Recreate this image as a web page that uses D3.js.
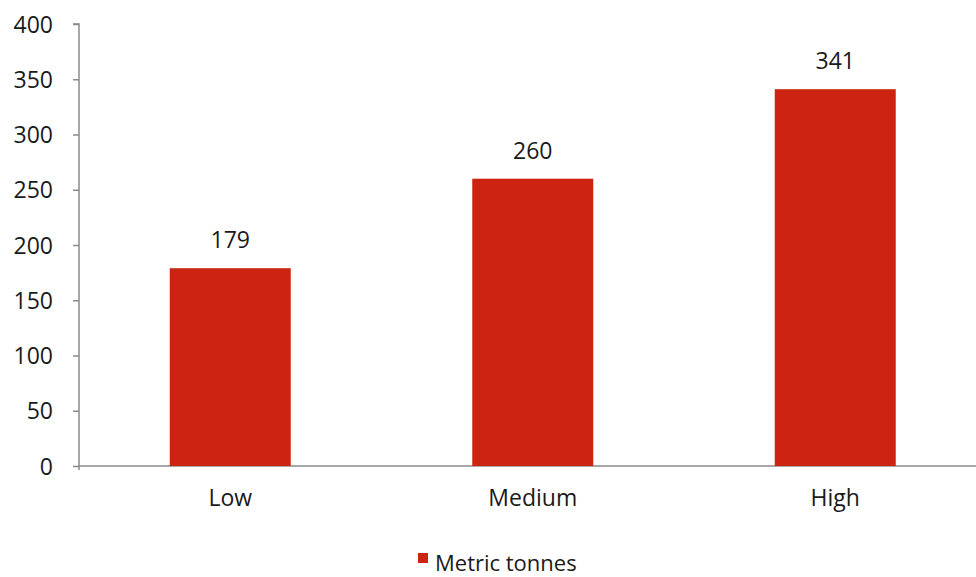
<!DOCTYPE html>
<html><head><meta charset="utf-8">
<script src="https://cdn.jsdelivr.net/npm/d3@7"></script>
<style>body{margin:0;background:#fff}text{font-family:"Open Sans",sans-serif;fill:#1a1a1a}</style>
</head><body>
<svg id="c" width="976" height="577"></svg>
<script>
const categories = ["Low", "Medium", "High"];
const values = [179, 260, 341];
const yTicks = [0, 50, 100, 150, 200, 250, 300, 350, 400];
const seriesName = "Metric tonnes";

const svg = d3.select("#c");
const axisColor = "#8a8a8a";
const barColor = "#cd2311";
const x0 = 79, yTop = 24, yBottom = 466;

const x = d3.scaleBand().domain(categories).range([x0, 986.5]).paddingInner(0.6).paddingOuter(0.3);
const y = d3.scaleLinear().domain([0, 400]).range([yBottom, yTop]);

// y axis
const ya = svg.append("g").attr("transform", `translate(${x0},0)`)
  .call(d3.axisLeft(y).tickValues(yTicks).tickSize(6).tickPadding(20));
ya.select(".domain").attr("stroke", axisColor).attr("stroke-width", 1.5).attr("d", `M-6,${yTop}H0V${yBottom + 4}`);
ya.selectAll(".tick line").attr("stroke", axisColor).attr("stroke-width", 1.5);
ya.selectAll(".tick text").attr("font-size", 23).attr("fill", "#1a1a1a").attr("dy", "0.35em");

// x axis
const xa = svg.append("g").attr("transform", `translate(0,${yBottom})`)
  .call(d3.axisBottom(x).tickSize(0).tickPadding(24));
xa.select(".domain").attr("stroke", axisColor).attr("stroke-width", 1.5).attr("d", `M${x0},0H976`);
xa.selectAll(".tick text").attr("font-size", 23).attr("fill", "#1a1a1a");

// bars
svg.selectAll("rect.bar").data(values).join("rect").attr("class", "bar")
  .attr("x", (d, i) => x(categories[i])).attr("width", x.bandwidth())
  .attr("y", d => y(d)).attr("height", d => y(0) - y(d)).attr("fill", barColor);

// value labels
svg.selectAll("text.val").data(values).join("text").attr("class", "val")
  .attr("x", (d, i) => x(categories[i]) + x.bandwidth() / 2)
  .attr("y", d => y(d) - 20).attr("text-anchor", "middle").attr("font-size", 23).text(d => d);

// legend
svg.append("rect").attr("x", 418).attr("y", 553).attr("width", 10).attr("height", 10).attr("fill", barColor);
svg.append("text").attr("x", 435).attr("y", 571).attr("font-size", 22).text(seriesName);
</script>
</body></html>
